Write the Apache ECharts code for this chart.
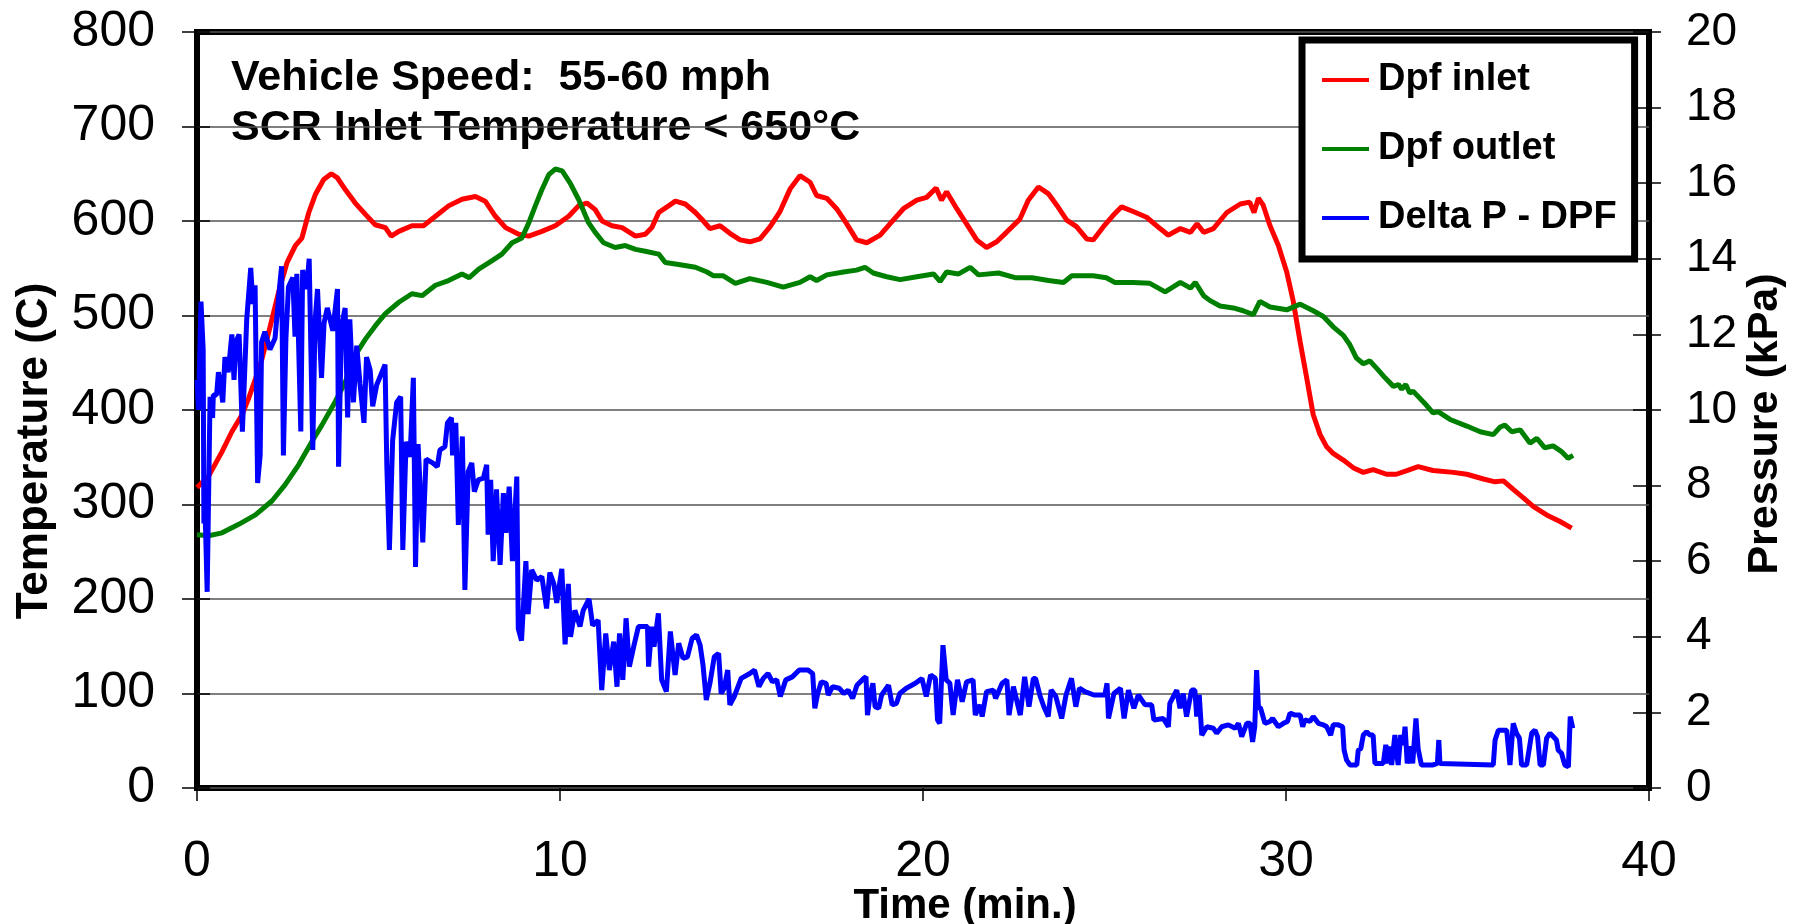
<!DOCTYPE html>
<html>
<head>
<meta charset="utf-8">
<script src="https://cdn.jsdelivr.net/npm/echarts@6/dist/echarts.min.js"></script>
<style>
  html, body { margin: 0; padding: 0; background: #fff; }
  #chart { width: 1798px; height: 924px; }
</style>
</head>
<body>
<div id="chart"></div>
<script>
// time axis in minutes
const xTicks = [0, 10, 20, 30, 40]
const tempTicks = [0, 100, 200, 300, 400, 500, 600, 700, 800]
const pressTicks = [0, 2, 4, 6, 8, 10, 12, 14, 16, 18, 20]

// Dpf inlet (C)
const inletTime = [0, 0.32, 0.69, 0.96, 1.24, 1.42, 1.61, 1.79, 2.02, 2.25, 2.48, 2.71, 2.89, 3.08, 3.26, 3.49, 3.7, 3.86, 4.09, 4.36, 4.64, 4.91, 5.19, 5.35, 5.56, 5.92, 6.24, 6.57, 6.93, 7.3, 7.67, 7.94, 8.22, 8.5, 8.86, 9.14, 9.5, 9.87, 10.24, 10.51, 10.74, 10.97, 11.16, 11.43, 11.71, 12.08, 12.35, 12.53, 12.72, 12.99, 13.18, 13.45, 13.73, 13.95, 14.13, 14.41, 14.68, 14.96, 15.23, 15.51, 15.79, 16.06, 16.34, 16.61, 16.89, 17.07, 17.35, 17.62, 17.9, 18.17, 18.45, 18.82, 19.09, 19.46, 19.83, 20.1, 20.36, 20.51, 20.65, 20.93, 21.2, 21.48, 21.75, 22.03, 22.3, 22.67, 22.9, 23.18, 23.45, 23.68, 23.96, 24.23, 24.51, 24.69, 24.97, 25.24, 25.47, 25.79, 26.16, 26.53, 26.76, 27.09, 27.37, 27.55, 27.73, 28.0, 28.37, 28.74, 29.0, 29.12, 29.24, 29.37, 29.56, 29.79, 30.02, 30.2, 30.39, 30.57, 30.75, 30.94, 31.12, 31.3, 31.58, 31.85, 32.13, 32.4, 32.77, 33.04, 33.41, 33.64, 34.05, 34.61, 34.98, 35.44, 35.76, 35.99, 36.26, 36.54, 36.81, 37.18, 37.55, 37.87]
const inletTemp = [318, 330, 356, 377, 395, 412, 433, 454, 489, 525, 556, 574, 582, 609, 628, 644, 650, 646, 633, 619, 607, 596, 593, 584, 589, 595, 595, 605, 616, 623, 626, 621, 605, 593, 586, 584, 589, 595, 605, 616, 619, 612, 600, 595, 593, 584, 586, 593, 609, 616, 621, 618, 609, 600, 592, 595, 587, 580, 578, 581, 594, 610, 634, 648, 641, 627, 624, 613, 597, 580, 577, 585, 597, 613, 622, 625, 635, 622, 631, 613, 597, 580, 572, 578, 588, 602, 622, 636, 629, 617, 601, 594, 581, 580, 594, 606, 615, 610, 604, 592, 585, 592, 588, 597, 588, 592, 609, 618, 620, 609, 624, 617, 595, 574, 546, 515, 472, 434, 395, 374, 361, 354, 347, 339, 334, 337, 332, 332, 337, 340, 336, 334, 332, 327, 324, 325, 316, 307, 298, 289, 282, 275]

// Dpf outlet (C)
const outletTime = [0, 0.32, 0.69, 1.15, 1.61, 2.07, 2.43, 2.8, 3.17, 3.44, 3.81, 4.09, 4.36, 4.64, 4.91, 5.19, 5.56, 5.92, 6.2, 6.57, 6.93, 7.3, 7.5, 7.76, 8.13, 8.4, 8.68, 8.95, 9.14, 9.32, 9.5, 9.69, 9.87, 10.06, 10.28, 10.51, 10.79, 10.97, 11.2, 11.52, 11.8, 12.08, 12.35, 12.72, 12.9, 13.27, 13.73, 14.05, 14.23, 14.5, 14.83, 15.23, 15.7, 16.15, 16.61, 16.89, 17.07, 17.35, 17.81, 18.17, 18.4, 18.63, 19.0, 19.37, 19.83, 20.29, 20.47, 20.65, 20.98, 21.3, 21.53, 22.08, 22.54, 23.0, 23.46, 23.87, 24.1, 24.69, 25.05, 25.28, 25.79, 26.25, 26.67, 27.09, 27.37, 27.5, 27.73, 27.9, 28.18, 28.55, 28.82, 29.1, 29.28, 29.56, 30.02, 30.39, 30.75, 31.03, 31.3, 31.58, 31.76, 31.94, 32.13, 32.31, 32.5, 32.73, 32.96, 33.1, 33.19, 33.3, 33.41, 33.5, 33.87, 34.05, 34.2, 34.52, 34.98, 35.35, 35.71, 35.9, 36.03, 36.22, 36.45, 36.72, 36.91, 37.13, 37.36, 37.59, 37.77, 37.91]
const outletTemp = [268, 267, 270, 279, 289, 304, 321, 342, 367, 384, 409, 430, 458, 475, 489, 502, 514, 523, 521, 532, 537, 544, 540, 549, 558, 565, 577, 582, 598, 616, 633, 649, 655, 653, 640, 623, 598, 588, 577, 572, 574, 570, 568, 565, 556, 554, 551, 546, 542, 542, 534, 539, 535, 530, 535, 541, 537, 543, 546, 548, 551, 545, 541, 538, 541, 544, 536, 546, 544, 551, 543, 545, 540, 540, 537, 535, 542, 542, 540, 535, 535, 534, 525, 535, 529, 535, 521, 516, 510, 508, 505, 501, 515, 509, 506, 512, 505, 499, 488, 479, 469, 455, 449, 452, 444, 434, 425, 427, 422, 427, 418, 420, 405, 397, 398, 390, 383, 377, 374, 382, 384, 377, 379, 365, 370, 360, 362, 356, 349, 352]

// Delta P - DPF (kPa)
const dpTime = [0, 0.04, 0.11, 0.17, 0.19, 0.22, 0.28, 0.36, 0.43, 0.45, 0.54, 0.59, 0.63, 0.71, 0.77, 0.86, 0.96, 1.02, 1.07, 1.16, 1.25, 1.37, 1.48, 1.54, 1.6, 1.67, 1.74, 1.78, 1.87, 2.01, 2.15, 2.24, 2.33, 2.38, 2.45, 2.52, 2.64, 2.7, 2.75, 2.86, 2.91, 3.02, 3.09, 3.19, 3.25, 3.32, 3.43, 3.5, 3.59, 3.74, 3.87, 3.9, 3.98, 4.08, 4.15, 4.21, 4.31, 4.4, 4.49, 4.6, 4.67, 4.77, 4.84, 4.95, 5.18, 5.23, 5.3, 5.39, 5.5, 5.61, 5.67, 5.76, 5.87, 5.96, 6.02, 6.09, 6.22, 6.31, 6.49, 6.62, 6.69, 6.83, 6.9, 7.01, 7.04, 7.13, 7.2, 7.31, 7.38, 7.47, 7.57, 7.64, 7.75, 7.89, 7.98, 8.02, 8.09, 8.16, 8.25, 8.35, 8.44, 8.51, 8.6, 8.69, 8.81, 8.85, 8.94, 9.06, 9.12, 9.22, 9.36, 9.5, 9.63, 9.72, 9.83, 9.91, 10.05, 10.14, 10.23, 10.29, 10.41, 10.55, 10.64, 10.8, 10.9, 11.05,
  11.15, 11.26, 11.36, 11.48, 11.57, 11.64, 11.73, 11.82, 11.91, 12.04, 12.16, 12.41, 12.44, 12.53, 12.59, 12.71, 12.8, 12.93, 13.04, 13.17, 13.27, 13.39, 13.51, 13.64, 13.76, 13.86, 13.94, 14.03, 14.13, 14.25, 14.37, 14.44, 14.52, 14.62, 14.68, 14.8, 14.99, 15.23, 15.36, 15.48, 15.6, 15.73, 15.85, 15.97, 16.07, 16.22, 16.4, 16.59, 16.83, 16.96, 17.02, 17.1, 17.2, 17.33, 17.39, 17.51, 17.69, 17.82, 17.94, 18.06, 18.18, 18.37, 18.43, 18.47, 18.55, 18.62, 18.68, 18.78, 18.86, 19.05, 19.15, 19.27, 19.36, 19.54, 19.79, 19.97, 20.09, 20.21, 20.34, 20.4, 20.46, 20.55, 20.64, 20.74, 20.83, 20.95, 21.08, 21.2, 21.38, 21.44, 21.57, 21.63, 21.75, 21.94, 22.0, 22.18, 22.31, 22.37, 22.49, 22.68, 22.8, 22.92, 23.04, 23.1, 23.23, 23.33, 23.45, 23.53, 23.66, 23.82, 23.94, 24.09, 24.21, 24.31, 24.46, 24.71, 25.01, 25.07, 25.11, 25.26, 25.44, 25.54, 25.66, 25.81, 25.93, 26.12, 26.3,
  26.36, 26.62, 26.76, 26.8, 26.99, 27.08, 27.17, 27.26, 27.4, 27.49, 27.54, 27.61, 27.68, 27.82, 28.0, 28.09, 28.23, 28.41, 28.6, 28.69, 28.78, 28.92, 29.01, 29.08, 29.14, 29.19, 29.24, 29.3, 29.42, 29.56, 29.63, 29.79, 29.93, 30.04, 30.11, 30.25, 30.39, 30.46, 30.52, 30.66, 30.75, 30.89, 31.03, 31.12, 31.23, 31.3, 31.44, 31.56, 31.6, 31.67, 31.76, 31.95, 31.99, 32.06, 32.13, 32.22, 32.31, 32.4, 32.45, 32.68, 32.75, 32.82, 32.87, 32.91, 33.0, 33.05, 33.09, 33.16, 33.23, 33.28, 33.34, 33.43, 33.49, 33.58, 33.64, 33.69, 33.73, 34.05, 34.17, 34.21, 34.24, 35.71, 35.76, 35.85, 36.08, 36.17, 36.26, 36.35, 36.43, 36.49, 36.63, 36.77, 36.86, 36.93, 37.0, 37.09, 37.18, 37.27, 37.36, 37.45, 37.5, 37.59, 37.68, 37.78, 37.83, 37.9]
const dpValue = [10.8, 10.0, 12.87, 11.6, 7.0, 7.44, 5.19, 10.35, 9.79, 10.4, 10.4, 11.0, 10.8, 10.2, 11.4, 11.0, 12.0, 10.8, 11.8, 12.0, 9.43, 12.4, 13.76, 12.8, 13.3, 8.07, 8.8, 11.8, 12.07, 11.6, 11.9, 12.9, 13.8, 8.8, 11.9, 13.26, 13.5, 11.94, 13.6, 9.43, 13.7, 13.2, 14.0, 8.94, 12.3, 13.2, 10.85, 12.3, 12.7, 12.1, 13.2, 8.5, 12.2, 12.7, 9.8, 12.4, 10.2, 11.7, 10.7, 9.66, 11.4, 11.06, 10.1, 10.66, 11.2, 8.5, 6.3, 9.2, 10.2, 10.35, 6.3, 9.16, 8.76, 10.85, 5.85, 9.1, 6.5, 8.7, 8.6, 8.5, 8.94, 9.03, 9.66, 9.79, 8.8, 9.66, 6.96, 9.3, 5.24, 8.37, 8.6, 7.84, 8.15, 8.2, 8.55, 6.7, 8.15, 6.0, 7.9, 5.9, 7.8, 6.75, 7.97, 6.0, 8.24, 4.22, 3.9, 6.0, 4.6, 5.77, 5.5, 5.59, 4.75, 5.7, 5.4, 4.9, 5.8, 3.8, 5.4, 4.0, 4.7, 4.27, 4.7, 5.0, 4.3, 4.44,
  2.59, 4.09, 3.12, 3.87, 2.68, 4.09, 2.86, 4.49, 3.21, 3.78, 4.27, 4.27, 3.21, 4.27, 3.74, 4.62, 2.86, 2.55, 4.14, 2.99, 3.83, 3.43, 3.47, 3.96, 4.05, 3.78, 3.25, 2.33, 2.77, 3.47, 3.56, 2.5, 2.63, 3.12, 2.2, 2.42, 2.9, 3.03, 3.12, 2.68, 2.9, 3.03, 2.81, 2.86, 2.42, 2.86, 2.94, 3.12, 3.12, 3.03, 2.11, 2.5, 2.81, 2.77, 2.46, 2.68, 2.64, 2.5, 2.59, 2.37, 2.72, 2.9, 2.94, 1.93, 2.5, 2.77, 2.15, 2.11, 2.46, 2.72, 2.2, 2.24, 2.5, 2.64, 2.77, 2.9, 2.42, 2.99, 2.9, 1.8, 1.71, 3.78, 2.86, 2.77, 1.93, 2.86, 2.28, 2.81, 2.86, 1.93, 2.2, 1.89, 2.55, 2.59, 2.37, 2.77, 2.86, 1.93, 2.68, 1.93, 2.94, 2.15, 2.9, 2.9, 2.42, 2.15, 1.89, 2.59, 2.42, 1.84, 2.46, 2.9, 2.15, 2.64, 2.55, 2.46, 2.46, 2.77, 1.84, 2.5, 2.64, 1.84, 2.59, 2.11, 2.46, 2.2, 2.2,
  1.8, 1.84, 1.62, 2.24, 2.59, 2.11, 2.5, 1.89, 2.59, 2.59, 1.89, 2.46, 1.4, 1.62, 1.58, 1.45, 1.62, 1.67, 1.58, 1.71, 1.36, 1.71, 1.71, 1.22, 1.62, 3.12, 2.15, 2.11, 1.71, 1.76, 1.84, 1.62, 1.71, 1.76, 1.98, 1.93, 1.93, 1.62, 1.8, 1.76, 1.89, 1.71, 1.67, 1.62, 1.4, 1.67, 1.67, 1.62, 1.0, 0.74, 0.61, 0.61, 1.0, 1.04, 1.4, 1.49, 1.4, 1.4, 0.65, 0.65, 1.14, 0.65, 1.1, 0.61, 1.4, 0.92, 0.61, 1.4, 1.14, 1.62, 0.65, 1.1, 0.65, 1.84, 1.04, 1.0, 0.61, 0.61, 0.65, 1.27, 0.65, 0.61, 1.27, 1.53, 1.53, 0.61, 1.71, 1.45, 1.32, 0.61, 0.61, 1.45, 1.53, 1.36, 0.61, 0.61, 1.32, 1.45, 1.36, 1.27, 1.0, 0.92, 0.61, 0.56, 1.89, 1.58]

const zip = (xs, ys) => xs.map((x, i) => [x, ys[i]])

const FONT = 'Liberation Sans, Arial, Helvetica, sans-serif'

let myChart = echarts.init(document.getElementById('chart'), null, { renderer: 'canvas' })

let option = {
  animation: false,
  backgroundColor: '#fff',
  textStyle: { fontFamily: FONT, color: '#000' },
  grid: {
    left: 197, right: 149, top: 32, bottom: 136,
    outerBoundsMode: 'none',
    containLabel: false,
    show: true,
    borderColor: '#000',
    borderWidth: 6,
    backgroundColor: 'transparent'
  },
  legend: {
    orient: 'vertical',
    left: 1302,
    top: 40,
    padding: [21, 18, 22, 20],
    itemGap: 31,
    itemWidth: 47,
    itemHeight: 4,
    icon: 'rect',
    borderColor: '#000',
    borderWidth: 7,
    backgroundColor: '#fff',
    textStyle: { fontFamily: FONT, fontSize: 38, fontWeight: 'bold', color: '#000', padding: [0, 0, 0, 4] },
    data: ['Dpf inlet', 'Dpf outlet', 'Delta P - DPF']
  },
  graphic: [
    {
      type: 'text', left: 231, top: 57,
      style: { text: 'Vehicle Speed:  55-60 mph', font: 'bold 43px ' + FONT, fill: '#000' }
    },
    {
      type: 'text', left: 231, top: 107,
      style: { text: 'SCR Inlet Temperature < 650\u00B0C', font: 'bold 43px ' + FONT, fill: '#000' }
    }
  ],
  xAxis: {
    type: 'value',
    min: xTicks[0], max: xTicks[xTicks.length - 1], interval: 10,
    name: 'Time (min.)',
    nameLocation: 'middle',
    nameGap: 97,
    nameMoveOverlap: false,
    nameTextStyle: { fontFamily: FONT, fontSize: 42, fontWeight: 'bold', color: '#000', padding: [0, 0, 0, 84] },
    axisLine: { show: false },
    axisTick: { show: true, length: 13, lineStyle: { color: '#000', width: 1.5 } },
    axisLabel: { fontFamily: FONT, fontSize: 50, color: '#000', margin: 49 },
    splitLine: { show: false }
  },
  yAxis: [
    {
      type: 'value', position: 'left',
      min: tempTicks[0], max: tempTicks[tempTicks.length - 1], interval: 100,
      name: 'Temperature (C)',
      nameLocation: 'middle',
      nameRotate: 90,
      nameGap: 140,
      nameMoveOverlap: false,
      nameTextStyle: { fontFamily: FONT, fontSize: 44, fontWeight: 'bold', color: '#000', padding: [0, 82, 0, 0] },
      axisLine: { show: false },
      axisTick: { show: true, length: 15, lineStyle: { color: '#000', width: 1.5 } },
      axisLabel: { fontFamily: FONT, fontSize: 50, color: '#000', margin: 42 },
      splitLine: { show: true, lineStyle: { color: '#555', width: 1.5 } }
    },
    {
      type: 'value', position: 'right',
      min: pressTicks[0], max: pressTicks[pressTicks.length - 1], interval: 2,
      name: 'Pressure (kPa)',
      nameLocation: 'middle',
      nameRotate: 90,
      nameGap: 95,
      nameMoveOverlap: false,
      nameTextStyle: { fontFamily: FONT, fontSize: 43, fontWeight: 'bold', color: '#000', padding: [0, 28, 0, 0] },
      axisLine: { show: false },
      axisTick: { show: true, length: 12, lineStyle: { color: '#000', width: 1.5 } },
      axisLabel: { fontFamily: FONT, fontSize: 46, color: '#000', margin: 37 },
      splitLine: { show: false }
    },
    {
      // inner half of the left ticks
      type: 'value', position: 'left',
      min: 0, max: 800, interval: 100,
      axisLine: { show: false },
      axisTick: { show: true, inside: true, length: 13, lineStyle: { color: '#000', width: 1.5 } },
      axisLabel: { show: false },
      splitLine: { show: false }
    },
    {
      // inner half of the right ticks
      type: 'value', position: 'right',
      min: 0, max: 20, interval: 2,
      axisLine: { show: false },
      axisTick: { show: true, inside: true, length: 16, lineStyle: { color: '#000', width: 1.5 } },
      axisLabel: { show: false },
      splitLine: { show: false }
    }
  ],
  series: [
    {
      name: 'Dpf inlet', type: 'line', yAxisIndex: 0,
      symbol: 'none', color: '#ff0000',
      lineStyle: { width: 5, color: '#ff0000' },
      data: zip(inletTime, inletTemp)
    },
    {
      name: 'Dpf outlet', type: 'line', yAxisIndex: 0,
      symbol: 'none', color: '#008000',
      lineStyle: { width: 5, color: '#008000' },
      data: zip(outletTime, outletTemp)
    },
    {
      name: 'Delta P - DPF', type: 'line', yAxisIndex: 1,
      symbol: 'none', color: '#0000ff',
      lineStyle: { width: 5, color: '#0000ff' },
      data: zip(dpTime, dpValue)
    }
  ]
}

myChart.setOption(option)
</script>
</body>
</html>
